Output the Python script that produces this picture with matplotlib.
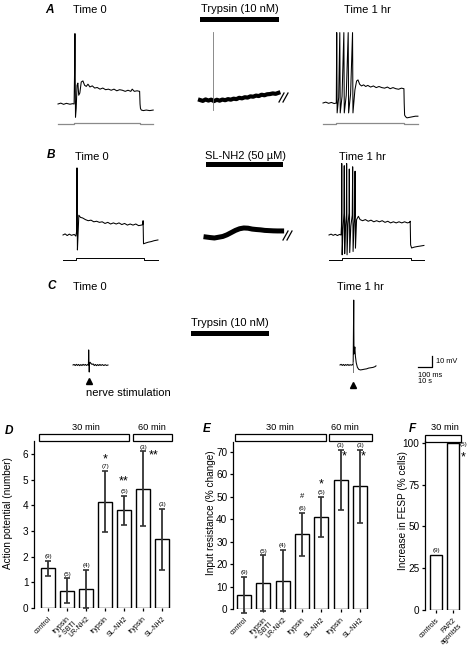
import numpy as np
import matplotlib
matplotlib.use("Agg")
import matplotlib.pyplot as plt
from matplotlib.patches import Rectangle

plt.rcParams['font.family'] = ['Liberation Sans', 'DejaVu Sans']

# ---------------- data: intracellular traces (time, mV) ----------------
# panel A, Time 0 (ms, mV)
A0 = [(0, 0), (20, 0.8), (40, -0.3), (60, 0.6), (85, -0.2), (105, 0.3), (115, 0), (119, 35),
      (121, 64), (125, -12), (130, -4), (136, 17), (142, 19), (148, 8), (156, 10), (166, 20),
      (178, 21), (190, 17), (202, 16), (214, 18), (228, 15.5), (245, 16.5), (262, 14.5),
      (280, 15), (300, 13.5), (320, 14.5), (340, 13), (360, 13.5), (380, 12.5), (400, 13.5),
      (420, 12), (440, 13), (460, 12.5), (480, 11.5), (500, 12.5), (520, 11.5), (530, 13.5),
      (545, 11.5), (565, 12), (583, 11.5), (586, 0), (589, -4), (595, -5.5), (610, -6),
      (630, -5.5), (655, -6), (680, -5.5)]
A0_STIM_T = [0, 115, 115, 583, 583, 680]
# panel A, during trypsin (s, mV)
A1 = [(0, 0), (2, -0.8), (4, 0.5), (6, -0.5), (8, 0.3), (10, -1), (12, 0.2), (14, -0.6), (16, 0.4),
      (18, -0.2), (20, 0.8), (22, 0.3), (24, 1.2), (26, 0.8), (28, 2), (30, 1.5), (32, 2.5),
      (34, 2.2), (36, 3.3), (38, 3), (40, 4), (42, 3.6), (44, 4.8), (46, 4.3), (48, 5.2),
      (50, 5.4), (52, 6), (54, 5.6), (56, 6.5)]
A1_SPIKE = [(9.3, -9), (9.3, 62)]
# panel A, Time 1 hr (ms, mV)
A2 = [(0, 0), (20, 0.8), (40, -0.3), (60, 0.5), (80, -0.5), (95, 0), (98, 64), (101, -9), (112, 5),
      (120, 64), (123, -9), (136, 6), (149, 64), (152, -9), (166, 7), (180, 64), (183, -9),
      (197, 8), (211, 64), (214, -9), (228, 12), (240, 20), (250, 21), (262, 17), (275, 15.5),
      (290, 16.5), (305, 15), (320, 16), (340, 14.5), (360, 15.5), (380, 14), (400, 15),
      (420, 14), (440, 13.5), (460, 14.5), (480, 13), (500, 14), (520, 13), (540, 12.5),
      (560, 13.5), (578, 13), (580, 0), (583, -11), (590, -12.5), (600, -13.5), (620, -13),
      (640, -12.5), (660, -12), (678, -12)]
A2_STIM_T = [0, 95, 95, 578, 578, 678]
# panel B, Time 0 (ms, mV)
B0 = [(0, 0), (15, 1), (30, -0.5), (45, 0.8), (60, -0.3), (80, 0.5), (92, -1), (97, 3), (100, 61),
      (103, -13.6), (108, 2), (113, 18), (125, 16), (140, 15.5), (160, 14), (180, 13),
      (200, 13.5), (220, 12), (240, 12.5), (260, 11.5), (280, 12), (300, 10.5), (320, 11.5),
      (340, 10), (360, 11), (380, 10), (400, 11), (420, 9.5), (440, 10.5), (460, 9), (480, 10),
      (500, 9), (520, 10), (540, 8.5), (560, 9), (570, 9.5), (572, 13), (575, -8), (590, -7.3),
      (610, -6.5), (630, -6), (650, -5.2), (678, -4.5)]
B0_STIM_T = [0, 93, 93, 578, 578, 678]
# panel B, during SL-NH2 (s, mV)
B1 = [(0, 0), (3, -0.5), (6, -0.9), (9, -0.2), (12, 0.5), (15, 2), (18, 4), (21, 6), (24, 7.5),
      (27, 8.2), (30, 8), (33, 7.2), (36, 6.8), (39, 6.5), (42, 6), (45, 5.8), (48, 5.6),
      (51, 5.5), (54, 5.5)]
# panel B, Time 1 hr (ms, mV)
B2 = [(0, 0), (15, 0.8), (30, -0.3), (45, 0.6), (60, -0.5), (75, 0.5), (86, 0), (89, 8), (91, 65),
      (94, -18), (100, 5), (107, 20), (109, 63), (112, -17), (118, 8), (124, 18), (126, 65),
      (129, -18), (136, 10), (143, 20), (145, 60), (148, -16), (156, 8), (166, 18), (169, 62),
      (172, -15), (179, 10), (184, 18), (186, 58), (189, -12), (197, 14), (210, 17), (222, 14),
      (240, 13), (260, 14), (280, 12.5), (300, 13.5), (320, 12), (340, 13), (360, 12),
      (380, 13), (400, 11.5), (420, 12.5), (440, 11), (460, 12), (480, 11), (500, 12),
      (520, 11), (540, 12), (560, 11), (575, 11.5), (580, 12.5), (583, -9), (590, -11.8),
      (610, -11), (630, -10.5), (655, -10), (678, -9.5)]
B2_STIM_T = [0, 93, 93, 585, 585, 678]
STIM_LEVEL = [0, 0, 1, 1, 0, 0]
# panel C, nerve-evoked responses (ms, mV)
C0 = [(0, 0), (8, 0.5), (16, -0.5), (24, 0.6), (32, -0.4), (40, 0.5), (48, -0.6), (56, 0.4),
      (64, -0.5), (72, 0.6), (80, -0.3), (88, 0.5), (96, -0.4), (104, 0.3), (110, 0),
      (112, 13.7), (114, 2), (116, -6.4), (118, 1), (122, 2.5), (128, 1.5), (136, 0.5),
      (144, 1), (152, -0.5), (160, 0.5), (168, -0.6), (176, 0.4), (184, -0.5), (192, 0.5),
      (200, -0.4), (210, 0.4), (220, -0.5), (230, 0.3), (240, -0.4), (250, 0)]
C1 = [(0, 0), (8, 0.6), (16, -0.4), (24, 0.5), (32, -0.5), (40, 0.4), (48, -0.3), (56, 0.5),
      (64, -0.4), (72, 0.3), (80, -0.2), (88, 0.3), (94, 0), (98, 59), (100, 10), (103, 13),
      (106, 16.4), (110, 8), (116, 2), (124, -2), (134, -4), (146, -4.5), (160, -4.2),
      (175, -3.8), (190, -3.5), (205, -2.8), (220, -2.5), (235, -2.2), (250, -1.5), (257, -0.8)]
C1_ARTIFACT = [(93, -6.4), (93, 3)]

# ---------------- data: bar charts ----------------
D_LABELS = ['control', 'trypsin\n+ SBTI', 'LR-NH2', 'trypsin', 'SL-NH2', 'trypsin', 'SL-NH2']
D_MEAN = [1.55, 0.68, 0.75, 4.15, 3.8, 4.65, 2.67]
D_SEM = [0.3, 0.47, 0.75, 1.2, 0.58, 1.45, 1.2]
D_N = [9, 5, 4, 7, 5, 3, 3]
E_LABELS = D_LABELS
E_MEAN = [6.2, 11.5, 12.7, 33.3, 41, 57.5, 54.8]
E_SEM = [8.2, 12.4, 13.7, 9.6, 9, 13.5, 16.3]
E_N = [9, 5, 4, 6, 5, 3, 3]
F_LABELS = ['controls', 'PAR2\nagonists']
F_PCT = [33, 100]
F_N = [9, 5]

# ---------------- layout ----------------
W, H = 474, 645
fig = plt.figure(figsize=(W / 100, H / 100), dpi=100)


def px_axes(x0, y0, w, h):
    return fig.add_axes([x0 / W, 1 - (y0 + h) / H, w / W, h / H])


ov = px_axes(0, 0, W, H)
ov.set_xlim(0, W)
ov.set_ylim(H, 0)
ov.axis('off')

PX_MS, PX_S, PX_MV = 0.14, 1.4, 1.1


def trace_axes(x0, base, t_max, px_t, v_lo=-30, v_hi=70):
    ax = px_axes(x0, base - v_hi * PX_MV, t_max * px_t, (v_hi - v_lo) * PX_MV)
    ax.set_xlim(0, t_max)
    ax.set_ylim(v_lo, v_hi)
    ax.axis('off')
    return ax


def draw(ax, pts, **kw):
    a = np.asarray(pts, float)
    ax.plot(a[:, 0], a[:, 1], clip_on=False, **kw)


def stim(ax, ts, off, scale, **kw):
    ax.plot(ts, np.array(STIM_LEVEL) * scale + off, clip_on=False, **kw)


TRACE = dict(color='black', lw=0.75)

ax = trace_axes(58, 104, 680, PX_MS)
draw(ax, A0, **TRACE)
stim(ax, A0_STIM_T, -18.2, 1.0, color='#8a8a8a', lw=0.9)
ax = trace_axes(200, 100, 56, PX_S)
draw(ax, A1, color='black', lw=3.0)
draw(ax, A1_SPIKE, color='#777777', lw=0.6)
ax = trace_axes(323, 103, 678, PX_MS)
draw(ax, A2, **TRACE)
stim(ax, A2_STIM_T, -19.0, 1.0, color='#8a8a8a', lw=0.9)

ax = trace_axes(63, 235, 678, PX_MS)
draw(ax, B0, **TRACE)
stim(ax, B0_STIM_T, -22.7, 1.8, color='black', lw=0.7)
ax = trace_axes(206, 237, 54, PX_S)
draw(ax, B1, color='black', lw=3.6)
ax = trace_axes(329, 235, 678, PX_MS)
draw(ax, B2, **TRACE)
stim(ax, B2_STIM_T, -22.7, 1.8, color='black', lw=0.7)

ax = trace_axes(73, 365, 250, PX_MS)
draw(ax, C0, **TRACE)
ax = trace_axes(340, 365, 257, PX_MS)
draw(ax, C1, **TRACE)
draw(ax, C1_ARTIFACT, color='#777777', lw=0.7)

# ---------------- annotations of the trace panels ----------------
LBL = dict(fontsize=8.5, fontweight='bold', fontstyle='italic', va='baseline')
for s, x, y in [('A', 45, 13), ('B', 47, 158), ('C', 47, 289), ('D', 5, 434), ('E', 203, 432), ('F', 409, 432)]:
    ov.text(x, y, s, **LBL)
T8 = dict(fontsize=8, va='baseline')
ov.text(73, 12.7, 'Time 0', **T8)
ov.text(75, 159.5, 'Time 0', **T8)
ov.text(73, 290.5, 'Time 0', **T8)
ov.text(367, 12.7, 'Time 1 hr', ha='center', **T8)
ov.text(362, 159.5, 'Time 1 hr', ha='center', **T8)
ov.text(360, 290.5, 'Time 1 hr', ha='center', **T8)
ov.text(239.5, 12.5, 'Trypsin (10 nM)', ha='center', **T8)
ov.text(246, 159, 'SL-NH2 (50 \u00b5M)', ha='center', **T8)
ov.text(230, 326, 'Trypsin (10 nM)', ha='center', **T8)
for x0, y0, x1, y1 in [(200, 17.3, 279, 21.8), (206, 162.3, 283, 166.8), (191, 331.2, 269, 335.7)]:
    ov.add_patch(Rectangle((x0, y0), x1 - x0, y1 - y0, color='black', lw=0))
for x, y in [(279, 102), (283, 102), (283, 240), (287, 240)]:
    ov.plot([x, x + 5], [y, y - 9], color='black', lw=0.9)
ov.plot([89.5, 353.5], [380.8, 385.3], ls='none', marker='^', ms=4.2, color='black')
ov.text(86, 396, 'nerve stimulation', **T8)
ov.plot([418, 432, 432], [367, 367, 356], color='black', lw=0.9)
S5 = dict(fontsize=5.3, va='baseline')
ov.text(436, 362.7, '10 mV', **S5)
ov.text(418, 376.7, '100 ms', **S5)
ov.text(418, 382.9, '10 s', **S5)

# boxes above bar panels
for x0, x1, txt, tx in [(39, 129, '30 min', 86), (133, 172, '60 min', 152),
                        (235, 326, '30 min', 280), (329, 372, '60 min', 345),
                        (425, 461, '30 min', 445)]:
    y0 = 433.5 if x0 < 420 else 435
    ov.add_patch(Rectangle((x0, y0), x1 - x0, 7, facecolor='white', edgecolor='black', lw=0.9))
    ov.text(tx, 430.5, txt, ha='center', va='baseline', fontsize=6.7)


# ---------------- bar panels ----------------
def bar_panel(rect, labels, vals, errs, xlim, ylim, yticks, ylabel, lab_xy, width):
    ax = px_axes(*rect)
    x = np.arange(len(vals))
    ax.bar(x, vals, width, color='white', edgecolor='black', lw=1.0, zorder=2)
    if errs is not None:
        eb = ax.errorbar(x, vals, yerr=errs, fmt='none', ecolor='#333333', elinewidth=1.3,
                         capsize=2.0, capthick=1.2, zorder=3)
        for art in list(eb.lines[1]) + list(eb.lines[2]):
            art.set_clip_on(False)
    ax.set_xlim(*xlim)
    ax.set_ylim(*ylim)
    ax.set_yticks(yticks)
    ax.set_xticks(x)
    ax.set_xticklabels(labels, rotation=45, ha='right', rotation_mode='anchor', fontsize=5)
    for sp in ['top', 'right', 'bottom']:
        ax.spines[sp].set_visible(False)
    ax.spines['left'].set_linewidth(0.9)
    ax.tick_params(axis='y', length=2.5, width=0.9, pad=1.5, labelsize=7.2)
    ax.tick_params(axis='x', length=2.5, width=0.9, pad=2.5)
    ax.set_ylabel(ylabel, fontsize=7.2)
    ax.yaxis.set_label_coords(*lab_xy)
    ax.patch.set_alpha(0)
    return ax


NL = dict(ha='center', va='bottom', fontsize=4.5)
ST = dict(ha='center', va='center', fontsize=9)

axD = bar_panel((34, 441.2, 137.6, 166.8), D_LABELS, D_MEAN, D_SEM, (-0.74, 6.5), (0, 6.5),
                range(7), 'Action potential (number)', (-0.15, 0.57), 0.73)
for i, (m, e, n) in enumerate(zip(D_MEAN, D_SEM, D_N)):
    axD.annotate(f'({n})', (i, m + e), xytext=(0, 1.2), textcoords='offset points', **NL)
axD.text(3, 5.8, '*', **ST)
axD.text(4, 4.92, '**', **ST)
axD.text(5.55, 5.96, '**', **ST)

axE = bar_panel((233, 441.9, 135.7, 167.1), E_LABELS, E_MEAN, E_SEM, (-0.57, 6.45), (0, 74.5),
                range(0, 71, 10), 'Input resistance (% change)', (-0.125, 0.575), 0.72)
for i, (m, e, n) in enumerate(zip(E_MEAN, E_SEM, E_N)):
    axE.annotate(f'({n})', (i, m + e), xytext=(0, 1.2), textcoords='offset points', **NL)
axE.text(3, 50, '#', ha='center', va='center', fontsize=5.5)
axE.text(4, 55.5, '*', **ST)
axE.text(5.2, 68.2, '*', **ST)
axE.text(6.17, 68.2, '*', **ST)

axF = bar_panel((425, 441.3, 36, 168.7), F_LABELS, F_PCT, None, (-0.65, 1.47), (0, 101),
                [0, 25, 50, 75, 100], 'Increase in FESP (% cells)', (-0.47, 0.59), 0.68)
axF.annotate(f'({F_N[0]})', (0, F_PCT[0]), xytext=(0, 1.2), textcoords='offset points', **NL)
axF.text(1.62, 99, f'({F_N[1]})', ha='center', va='center', fontsize=4.5, clip_on=False)
axF.text(1.62, 91.5, '*', ha='center', va='center', fontsize=9, clip_on=False)

fig.savefig('out.png', dpi=100)
